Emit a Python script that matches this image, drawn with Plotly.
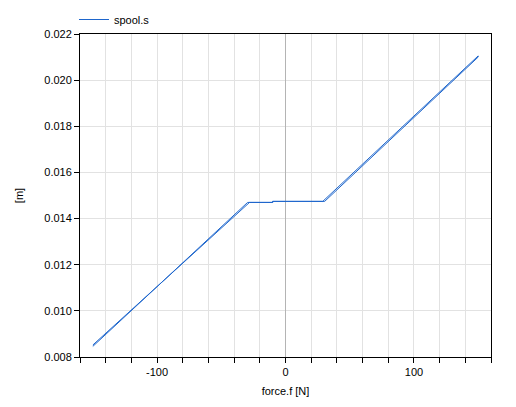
import plotly.graph_objects as go

# forward (increasing force) and return paths
force_up = [-150, -29.5, -10, -10, 29, 150]
pos_up = [0.00846, 0.01470, 0.01470, 0.014745, 0.014745, 0.02105]
force_down = [150, 30.5, -10, -10, -28, -150]
pos_down = [0.02100, 0.014745, 0.014745, 0.01470, 0.01470, 0.00852]

x_ticks = list(range(-160, 161, 20))
x_labels = [str(v) if v % 100 == 0 else "" for v in x_ticks]
y_ticks = [0.008, 0.010, 0.012, 0.014, 0.016, 0.018, 0.020, 0.022]
y_labels = ["0.008", "0.010", "0.012", "0.014", "0.016", "0.018", "0.020", "0.022"]

color = "#1e66cc"
fig = go.Figure()
fig.add_trace(go.Scatter(x=force_up + force_down, y=pos_up + pos_down, mode="lines",
                         name="spool.s", line=dict(color=color, width=1)))

font = dict(family="Liberation Sans, Arial, sans-serif", size=11, color="#000000")
fig.update_layout(
    width=508, height=399,
    margin=dict(l=72, r=25, t=26, b=50, autoexpand=False),
    paper_bgcolor="white", plot_bgcolor="white",
    font=font,
    showlegend=True,
    legend=dict(x=-0.0146, y=1.0, xanchor="left", yanchor="bottom", orientation="h",
                font=font, bgcolor="rgba(0,0,0,0)"),
    xaxis=dict(range=[-160, 160], tickmode="array", tickvals=x_ticks, ticktext=x_labels,
               showgrid=True, gridcolor="#e2e2e2", gridwidth=1, automargin=False,
               zeroline=True, zerolinecolor="#b4b4b4", zerolinewidth=1,
               showline=True, linecolor="black", linewidth=1, mirror=True,
               ticks="outside", ticklen=5, tickcolor="black",
               title=dict(text="force.f [N]", font=font, standoff=10)),
    yaxis=dict(range=[0.008, 0.022], tickmode="array", tickvals=y_ticks, ticktext=y_labels,
               showgrid=True, gridcolor="#e2e2e2", gridwidth=1, zeroline=False, automargin=False,
               showline=True, linecolor="black", linewidth=1, mirror=True,
               ticks="outside", ticklen=5, tickcolor="black",
               title=dict(text="[m]", font=font, standoff=18)),
)
fig.write_html("out.html")
